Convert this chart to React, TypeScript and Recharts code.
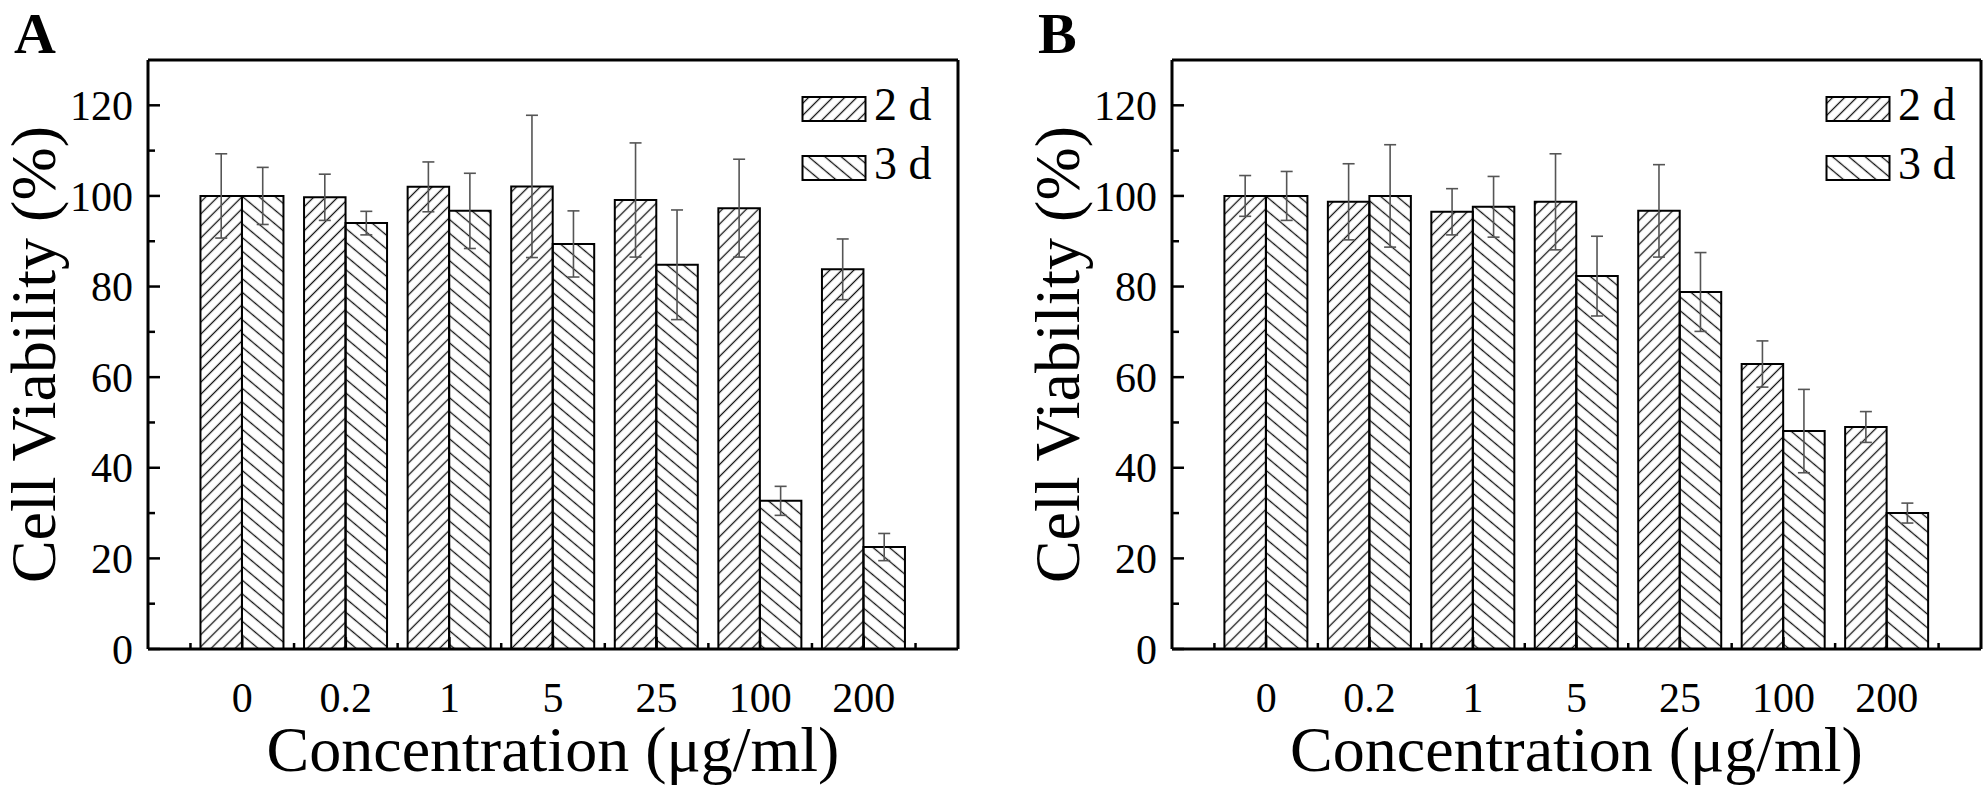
import React from 'react';
import { BarChart, Bar, XAxis, YAxis, ErrorBar, Legend } from 'recharts';

const concentrations = ['0', '0.2', '1', '5', '25', '100', '200'];
const xTicks = [-0.5, 0, 0.5, 1, 1.5, 2, 2.5, 3, 3.5, 4, 4.5, 5, 5.5, 6, 6.5];
const yTicks = [0, 10, 20, 30, 40, 50, 60, 70, 80, 90, 100, 110, 120];

// panel A
const a2d = [100, 99.7, 102.0, 102.1, 99.1, 97.3, 83.8];
const a2dErr = [9.3, 5.1, 5.5, 15.7, 12.6, 10.8, 6.7];
const a3d = [100, 94.0, 96.7, 89.4, 84.8, 32.7, 22.5];
const a3dErr = [6.3, 2.6, 8.3, 7.3, 12.1, 3.2, 3.0];

// panel B
const b2d = [100, 98.7, 96.5, 98.7, 96.7, 62.9, 49.0];
const b2dErr = [4.5, 8.4, 5.1, 10.6, 10.2, 5.1, 3.4];
const b3d = [100, 100, 97.6, 82.3, 78.8, 48.1, 30.0];
const b3dErr = [5.4, 11.3, 6.7, 8.8, 8.7, 9.2, 2.2];

const FONT = '"Liberation Serif", "Times New Roman", serif';

const XTick = (props: any) => {
  const { x, y, payload } = props;
  const v = payload.value as number;
  const major = Number.isInteger(v);
  return (
    <g>
      <line x1={x} x2={x} y1={y} y2={y - (major ? 12 : 6)} stroke="#000" strokeWidth={2.5} />
      {major && (
        <text x={x} y={y + 48} dy="0.35em" textAnchor="middle" fontSize={42} fontFamily={FONT} fill="#000">
          {concentrations[v]}
        </text>
      )}
    </g>
  );
};

const YTick = (props: any) => {
  const { x, y, payload } = props;
  const v = payload.value as number;
  const major = v % 20 === 0;
  return (
    <g>
      <line x1={x} x2={x + (major ? 12 : 7)} y1={y} y2={y} stroke="#000" strokeWidth={2.5} />
      {major && (
        <text x={x - 15} y={y} dy="0.35em" textAnchor="end" fontSize={42} fontFamily={FONT} fill="#000">
          {v}
        </text>
      )}
    </g>
  );
};

const XLabel = (props: any) => {
  const { viewBox } = props;
  return (
    <text x={viewBox.x + viewBox.width / 2} y={viewBox.y + 122} textAnchor="middle" fontSize={64} fontFamily={FONT} fill="#000">
      Concentration (μg/ml)
    </text>
  );
};

const YLabel = (props: any) => {
  const { viewBox } = props;
  const x = viewBox.x + 55;
  const y = viewBox.y + viewBox.height / 2;
  return (
    <text x={x} y={y} transform={`rotate(-90, ${x}, ${y})`} textAnchor="middle" fontSize={64} fontFamily={FONT} fill="#000">
      Cell Viability (%)
    </text>
  );
};

const HatchLegend = (props: any) => {
  const { payload, ids } = props;
  return (
    <svg width={160} height={120} style={{ display: 'block', overflow: 'visible' }}>
      {(payload || []).map((p: any, i: number) => (
        <g key={p.value}>
          <rect x={1.5} y={22 + i * 59} width={63} height={24} fill={`url(#${ids[p.dataKey]})`} stroke="#000" strokeWidth={2} />
          <text x={73} y={45 + i * 59} fontSize={46} fontFamily={FONT} fill="#000">
            {p.value}
          </text>
        </g>
      ))}
    </svg>
  );
};

interface PanelProps {
  id: string;
  letter: string;
  left: number;
  width: number;
  marginRight: number;
  d2: number[];
  d2Err: number[];
  d3: number[];
  d3Err: number[];
}

const Panel = ({ id, letter, left, width, marginRight, d2, d2Err, d3, d3Err }: PanelProps) => {
  const rows = concentrations.map((c, i) => ({
    idx: i,
    conc: c,
    d2: d2[i],
    d2Err: d2Err[i],
    d3: d3[i],
    d3Err: d3Err[i],
  }));
  const ids = { d2: `${id}-fwd`, d3: `${id}-back` };

  return (
    <div style={{ position: 'absolute', left, top: 0, width, height: 786 }}>
      <div
        style={{
          position: 'absolute',
          left: 14,
          top: 0,
          fontFamily: FONT,
          fontWeight: 'bold',
          fontSize: 58,
          lineHeight: 'normal',
          zIndex: 2,
        }}
      >
        {letter}
      </div>
      <BarChart
        width={width}
        height={786}
        data={rows}
        margin={{ top: 59, right: marginRight - 1, bottom: 0, left: 0 }}
        barGap={0}
        barSize={41.5}
        style={{ fontFamily: FONT }}
      >
        <defs>
          <pattern id={ids.d2} patternUnits="userSpaceOnUse" width={8.5} height={8.5} patternTransform="rotate(45)">
            <line x1={4.25} y1={0} x2={4.25} y2={8.5} stroke="#111" strokeWidth={1.3} />
          </pattern>
          <pattern id={ids.d3} patternUnits="userSpaceOnUse" width={10.5} height={10.5} patternTransform="rotate(-50)">
            <line x1={5.25} y1={0} x2={5.25} y2={10.5} stroke="#111" strokeWidth={1.3} />
          </pattern>
        </defs>
        <XAxis
          dataKey="idx"
          type="number"
          domain={[-0.91, 6.91]}
          ticks={xTicks}
          interval={0}
          tickSize={0}
          tickMargin={0}
          tickLine={false}
          height={137}
          axisLine={{ stroke: '#000', strokeWidth: 3 }}
          tick={<XTick />}
          label={<XLabel />}
        />
        <XAxis
          xAxisId="frame"
          orientation="top"
          type="number"
          domain={[0, 1]}
          height={1}
          tick={false}
          tickLine={false}
          axisLine={{ stroke: '#000', strokeWidth: 3 }}
        />
        <YAxis
          type="number"
          domain={[0, 130]}
          ticks={yTicks}
          interval={0}
          tickSize={0}
          tickMargin={0}
          tickLine={false}
          width={148}
          axisLine={{ stroke: '#000', strokeWidth: 3 }}
          tick={<YTick />}
          label={<YLabel />}
        />
        <YAxis
          yAxisId="frame"
          orientation="right"
          type="number"
          domain={[0, 130]}
          width={1}
          tick={false}
          tickLine={false}
          axisLine={{ stroke: '#000', strokeWidth: 3 }}
        />
        <Legend
          layout="vertical"
          align="center"
          verticalAlign="middle"
          wrapperStyle={{ left: 801, top: 75, width: 160, height: 120 }}
          content={<HatchLegend ids={ids} />}
        />
        <Bar dataKey="d2" name="2 d" fill={`url(#${ids.d2})`} stroke="#000" strokeWidth={2} isAnimationActive={false}>
          <ErrorBar dataKey="d2Err" width={6} stroke="#555" strokeWidth={1.6} direction="y" />
        </Bar>
        <Bar dataKey="d3" name="3 d" fill={`url(#${ids.d3})`} stroke="#000" strokeWidth={2} isAnimationActive={false}>
          <ErrorBar dataKey="d3Err" width={6} stroke="#555" strokeWidth={1.6} direction="y" />
        </Bar>
      </BarChart>
    </div>
  );
};

const App = () => (
  <div style={{ position: 'absolute', left: 0, top: 0, width: 1985, height: 786, background: '#fff', overflow: 'hidden' }}>
    <Panel id="a" letter="A" left={0} width={1000} marginRight={42} d2={a2d} d2Err={a2dErr} d3={a3d} d3Err={a3dErr} />
    <Panel id="b" letter="B" left={1024} width={961} marginRight={4} d2={b2d} d2Err={b2dErr} d3={b3d} d3Err={b3dErr} />
  </div>
);

export default App;
